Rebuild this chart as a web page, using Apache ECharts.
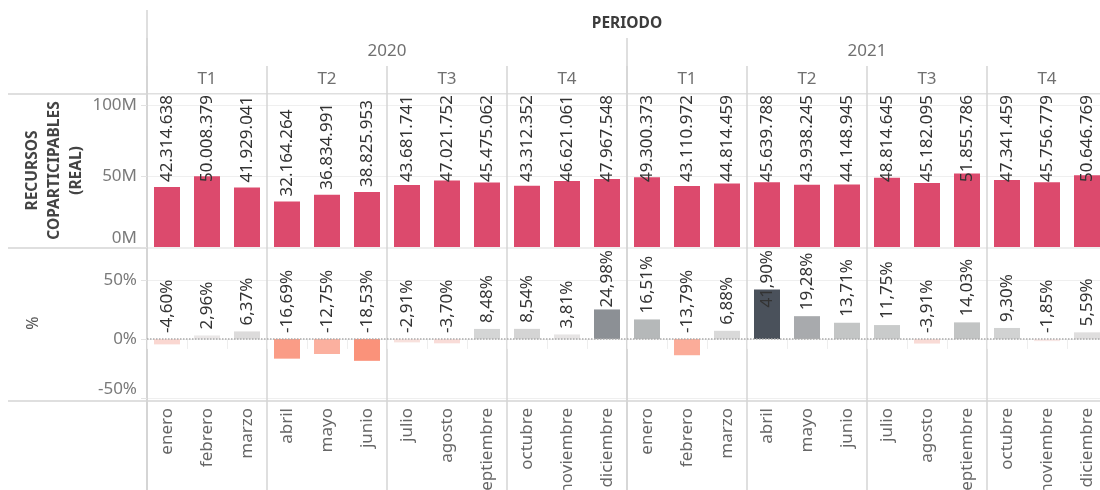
<!DOCTYPE html>
<html>
<head>
<meta charset="utf-8">
<script src="https://cdn.jsdelivr.net/npm/echarts@6/dist/echarts.min.js"></script>
<style>
    html, body { margin: 0; padding: 0; background: #ffffff; }
    #chart { width: 1100px; height: 490px; }
</style>
</head>
<body>
<div id="chart"></div>
<script>
// datos
const periodo = ['PERIODO'];
const years = ['2020', '2021'];
const quarters = ['T1', 'T2', 'T3', 'T4', 'T1', 'T2', 'T3', 'T4'];
const months = [
    'enero', 'febrero', 'marzo', 'abril', 'mayo', 'junio',
    'julio', 'agosto', 'septiembre', 'octubre', 'noviembre', 'diciembre',
    'enero', 'febrero', 'marzo', 'abril', 'mayo', 'junio',
    'julio', 'agosto', 'septiembre', 'octubre', 'noviembre', 'diciembre'
];
const recursos = [
    42314638, 50008379, 41929041, 32164264, 36834991, 38825953,
    43681741, 47021752, 45475062, 43312352, 46621061, 47967548,
    49300373, 43110972, 44814459, 45639788, 43938245, 44148945,
    48814645, 45182095, 51855786, 47341459, 45756779, 50646769
];
const variacion = [
    -4.60, 2.96, 6.37, -16.69, -12.75, -18.53,
    -2.91, -3.70, 8.48, 8.54, 3.81, 24.98,
    16.51, -13.79, 6.88, 41.90, 19.28, 13.71,
    11.75, -3.91, 14.03, 9.30, -1.85, 5.59
];

const FONT = 'Noto Sans';
const LINE = '#d4d4d4';
const PANE_LEFT = 147;
const PANE_W = 960;

function fmtMiles(v) {
    return String(Math.round(v)).replace(/\B(?=(\d{3})+(?!\d))/g, '.');
}
function fmtPct(v) {
    return v.toFixed(2).replace('.', ',') + '%';
}
// keep rotated labels inside the pane, like tableau does
function clampTop(paneTop) {
    return function (p) {
        const r = p.labelRect;
        if (r.y >= paneTop) {
            return;
        }
        return {
            x: r.x + r.width / 2,
            y: paneTop + r.height,
            align: 'left',
            verticalAlign: 'middle'
        };
    };
}

const chart = echarts.init(document.getElementById('chart'));

const pane = (top, height) => ({
    left: PANE_LEFT, top: top, width: PANE_W, height: height, outerBoundsMode: 'none'
});
const hiddenY = (idx) => ({ type: 'value', gridIndex: idx, show: false });
const headerX = (idx, data, margin, size, weight, color) => ({
    type: 'category',
    gridIndex: idx,
    data: data,
    position: 'top',
    axisLine: { show: false },
    axisTick: { show: false },
    axisLabel: {
        inside: true, margin: margin, interval: 0,
        fontFamily: FONT, fontSize: size, fontWeight: weight, color: color
    },
    splitLine: { show: true, interval: 0, lineStyle: { color: LINE, width: 1.5 } }
});

const option = {
    animation: false,
    backgroundColor: '#ffffff',
    grid: [
        pane(94, 153),
        pane(248, 150),
        pane(66, 424),
        pane(38, 452),
        pane(10, 480)
    ],
    visualMap: {
        type: 'continuous',
        show: false,
        seriesIndex: 1,
        min: -42,
        max: 42,
        inRange: {
            color: ['#c5383f', '#e15a4f', '#f0725c', '#f98569', '#fbab98', '#fcc9c0', '#f6f2f2',
                '#d9d9d9', '#c2c4c4', '#9fa2a5', '#7d8388', '#62686f', '#4a515b']
        }
    },
    xAxis: [
        {
            type: 'category', gridIndex: 0, data: months,
            axisLine: { show: false }, axisTick: { show: false }, axisLabel: { show: false }
        },
        {
            type: 'category', gridIndex: 1, data: months,
            axisLine: { show: false },
            axisTick: { show: true, length: 10, lineStyle: { color: '#eeeeee' } },
            axisLabel: {
                interval: 0, rotate: 90, margin: 10,
                fontFamily: FONT, fontSize: 17, color: '#666666'
            }
        },
        headerX(2, quarters, 5, 17, 'normal', '#707070'),
        headerX(3, years, 5, 17, 'normal', '#707070'),
        headerX(4, periodo, 6, 15.5, 'bold', '#3c3c3c')
    ],
    yAxis: [
        {
            type: 'value', gridIndex: 0, min: 0, max: 108000000, interval: 50000000,
            name: 'RECURSOS\nCOPARTICIPABLES\n(REAL)',
            nameLocation: 'middle', nameRotate: 90, nameGap: 59, nameMoveOverlap: false,
            nameTextStyle: { fontFamily: FONT, fontSize: 15.5, fontWeight: 'bold', color: '#444444', lineHeight: 22 },
            axisLine: { show: false },
            axisTick: { show: true, length: 6, lineStyle: { color: '#e2e2e2' } },
            axisLabel: {
                showMaxLabel: false, margin: 10, verticalAlignMinLabel: 'bottom',
                fontFamily: FONT, fontSize: 17, color: '#7a7a7a',
                formatter: (v) => (v / 1000000) + 'M'
            },
            splitLine: { show: true, lineStyle: { color: '#efefef' } }
        },
        {
            type: 'value', gridIndex: 1, min: -50, max: 77, interval: 50,
            name: '%',
            nameLocation: 'middle', nameRotate: 90, nameGap: 106, nameMoveOverlap: false,
            nameTextStyle: { fontFamily: FONT, fontSize: 16, color: '#555555' },
            axisLine: { show: false },
            axisTick: { show: true, length: 6, lineStyle: { color: '#e2e2e2' } },
            axisLabel: {
                showMaxLabel: false, margin: 10, verticalAlignMinLabel: 'bottom',
                fontFamily: FONT, fontSize: 17, color: '#7a7a7a',
                formatter: (v) => v + '%'
            },
            splitLine: { show: true, lineStyle: { color: '#efefef' } }
        },
        hiddenY(2),
        hiddenY(3),
        hiddenY(4)
    ],
    graphic: [
        { type: 'line', shape: { x1: 8, y1: 94, x2: 1100, y2: 94 }, style: { stroke: LINE, lineWidth: 1.5 } },
        { type: 'line', shape: { x1: 8, y1: 248, x2: 1100, y2: 248 }, style: { stroke: LINE, lineWidth: 1.5 } },
        { type: 'line', shape: { x1: 8, y1: 401, x2: 1100, y2: 401 }, style: { stroke: LINE, lineWidth: 1.5 } }
    ],
    series: [
        {
            type: 'bar',
            xAxisIndex: 0, yAxisIndex: 0,
            data: recursos,
            barWidth: 26,
            itemStyle: { color: '#dc4a6d' },
            label: {
                show: true, position: 'top', distance: 5, rotate: 90,
                align: 'left', verticalAlign: 'middle',
                fontFamily: FONT, fontSize: 17, color: '#333333',
                formatter: (p) => fmtMiles(p.value)
            },
            labelLayout: clampTop(95)
        },
        {
            type: 'bar',
            xAxisIndex: 1, yAxisIndex: 1,
            data: variacion,
            barWidth: 26,
            label: {
                show: true, position: 'top', distance: 6, rotate: 90,
                align: 'left', verticalAlign: 'middle',
                fontFamily: FONT, fontSize: 17, color: '#333333',
                formatter: (p) => fmtPct(p.value)
            },
            labelLayout: clampTop(250),
            markLine: {
                silent: true,
                symbol: 'none',
                label: { show: false },
                lineStyle: { type: 'dotted', color: '#aaaaaa', width: 1.5 },
                data: [{ yAxis: 0 }]
            }
        }
    ]
};

chart.setOption(option);
</script>
</body>
</html>
